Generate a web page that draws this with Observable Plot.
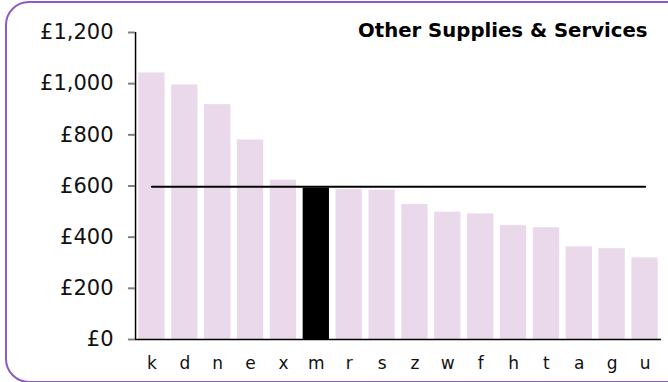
<!DOCTYPE html>
<html>
<head>
<meta charset="utf-8">
<script src="https://cdn.jsdelivr.net/npm/d3@7"></script>
<script src="https://cdn.jsdelivr.net/npm/@observablehq/plot@0.6"></script>
<style>
  html, body { margin: 0; padding: 0; background: #fff; overflow: hidden; }
  #wrap { position: relative; width: 668px; height: 382px; overflow: hidden; }
  #frame { position: absolute; left: 5px; top: 1px; width: 690px; height: 378px;
           border: 2px solid #8a5cc8; border-radius: 24px; pointer-events: none; }
  #chart { position: absolute; left: 0; top: 0; }
</style>
</head>
<body>
<div id="wrap">
  <div id="chart"></div>
  <div id="frame"></div>
</div>
<script>
const categories = ["k","d","n","e","x","m","r","s","z","w","f","h","t","a","g","u"];
const values = [1042, 995, 918, 780, 623, 592, 586, 584, 528, 498, 491, 445, 437, 362, 355, 319];
const highlight = "m";
const average = 597;
const yTicks = [0, 200, 400, 600, 800, 1000, 1200];
const title = "Other Supplies & Services";

const data = categories.map((c, i) => ({cat: c, value: values[i], hi: c === highlight}));
const font = "DejaVu Sans, Verdana, sans-serif";

const chart = Plot.plot({
  width: 668,
  height: 382,
  marginLeft: 135,
  marginRight: 7,
  marginTop: 32,
  marginBottom: 43,
  style: {fontFamily: font, background: "transparent", color: "#111"},
  x: {domain: categories, paddingInner: 0.2, paddingOuter: 0.1, round: false, label: null},
  y: {domain: [0, 1200], label: null},
  marks: [
    Plot.barY(data, {x: "cat", y: "value", fill: d => d.hi ? "#000000" : "#ead9ea"}),
    Plot.ruleX([categories[0]], {x: d => d, y1: 0, y2: 1200, dx: -16.4, stroke: "#000", strokeWidth: 1.5}),
    Plot.ruleY([0], {stroke: "#000", strokeWidth: 1.5}),
    Plot.lineY([categories[0], categories[categories.length - 1]], {x: d => d, y: () => average, stroke: "#000", strokeWidth: 2.2}),
    Plot.axisY({ticks: yTicks, tickSize: 7, tickPadding: 15, fontSize: 21, stroke: "#808080", strokeWidth: 2,
      tickFormat: d => "£" + d3.format(",")(d), fill: "#111"}),
    Plot.axisX({tickSize: 0, tickPadding: 17, fontSize: 17, fill: "#111"}),
    Plot.text([title], {frameAnchor: "top-right", text: d => d, dx: -14, dy: -10,
      fontWeight: "bold", fontSize: 19.7, fill: "#000"})
  ]
});
document.getElementById("chart").appendChild(chart);
</script>
</body>
</html>
